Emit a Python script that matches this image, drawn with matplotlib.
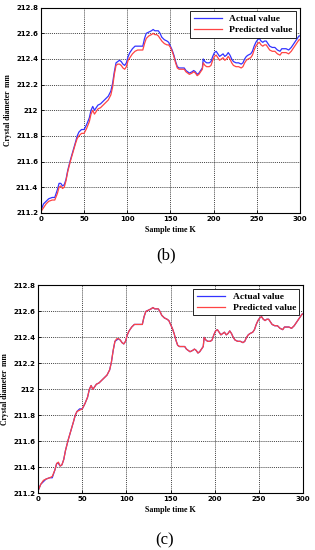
import matplotlib
matplotlib.use("Agg")
import matplotlib.pyplot as plt

# sample positions (K) and values
sample_k = [0, 3, 6, 9, 13, 16, 19, 21, 23, 25, 27, 29, 31, 34, 37, 40, 42, 44, 47, 50,
            53, 56, 58, 60, 62, 64, 66, 69, 72, 75, 78, 81, 83, 85, 87, 89, 91, 93, 95, 97,
            99, 101, 103, 106, 109, 112, 115, 118, 120, 122, 125, 128, 130, 132, 134, 136, 138, 140, 143, 146,
            148, 150, 152, 154, 156, 158, 160, 163, 166, 168, 170, 172, 175, 177, 179, 181, 183, 185, 187, 188,
            190, 192, 195, 197, 199, 201, 203, 205, 207, 209, 211, 213, 215, 217, 219, 221, 223, 226, 229, 232,
            234, 236, 238, 240, 243, 245, 247, 249, 251, 253, 255, 257, 259, 261, 263, 265, 268, 271, 274, 277,
            279, 281, 284, 287, 290, 293, 296, 299, 300]

actual = [211.22, 211.27, 211.29, 211.31, 211.32, 211.32, 211.38, 211.43, 211.43, 211.41, 211.42, 211.46, 211.53, 211.61, 211.68, 211.75, 211.80, 211.83, 211.85, 211.85,
          211.89, 211.94, 212.00, 212.03, 212.00, 212.02, 212.04, 212.05, 212.07, 212.09, 212.11, 212.15, 212.21, 212.30, 212.37, 212.38, 212.39, 212.38, 212.36, 212.35,
          212.37, 212.42, 212.45, 212.48, 212.50, 212.50, 212.50, 212.50, 212.56, 212.60, 212.61, 212.62, 212.63, 212.62, 212.62, 212.62, 212.60, 212.57, 212.55, 212.54,
          212.53, 212.50, 212.47, 212.43, 212.38, 212.34, 212.33, 212.33, 212.33, 212.31, 212.30, 212.29, 212.30, 212.31, 212.30, 212.28, 212.29, 212.31, 212.33, 212.40,
          212.38, 212.37, 212.37, 212.38, 212.42, 212.45, 212.46, 212.44, 212.42, 212.43, 212.44, 212.42, 212.43, 212.45, 212.43, 212.40, 212.38, 212.37, 212.37, 212.36,
          212.37, 212.40, 212.42, 212.43, 212.44, 212.46, 212.50, 212.53, 212.55, 212.56, 212.54, 212.53, 212.54, 212.54, 212.52, 212.50, 212.49, 212.49, 212.47, 212.46,
          212.48, 212.48, 212.48, 212.47, 212.49, 212.52, 212.55, 212.58, 212.58]

predicted_b = [211.21, 211.24, 211.27, 211.29, 211.30, 211.30, 211.35, 211.40, 211.41, 211.39, 211.40, 211.45, 211.52, 211.60, 211.67, 211.74, 211.78, 211.80, 211.82, 211.82,
               211.86, 211.91, 211.97, 212.00, 211.97, 211.99, 212.01, 212.02, 212.04, 212.06, 212.08, 212.12, 212.18, 212.28, 212.35, 212.36, 212.36, 212.35, 212.33, 212.32,
               212.34, 212.39, 212.41, 212.44, 212.46, 212.47, 212.47, 212.47, 212.52, 212.56, 212.58, 212.59, 212.60, 212.59, 212.59, 212.58, 212.56, 212.54, 212.52, 212.51,
               212.51, 212.49, 212.46, 212.42, 212.37, 212.33, 212.32, 212.32, 212.32, 212.30, 212.29, 212.28, 212.29, 212.30, 212.29, 212.27, 212.28, 212.30, 212.32, 212.37,
               212.35, 212.34, 212.34, 212.35, 212.39, 212.42, 212.43, 212.41, 212.39, 212.40, 212.41, 212.39, 212.40, 212.42, 212.40, 212.37, 212.35, 212.34, 212.34, 212.33,
               212.34, 212.37, 212.39, 212.40, 212.41, 212.43, 212.47, 212.50, 212.52, 212.53, 212.51, 212.50, 212.51, 212.51, 212.49, 212.47, 212.46, 212.46, 212.44, 212.43,
               212.45, 212.45, 212.45, 212.44, 212.46, 212.49, 212.52, 212.55, 212.55]

predicted_c = [211.22, 211.27, 211.30, 211.31, 211.32, 211.33, 211.38, 211.43, 211.44, 211.41, 211.42, 211.46, 211.53, 211.61, 211.68, 211.75, 211.80, 211.83, 211.84, 211.85,
               211.89, 211.94, 212.00, 212.03, 212.00, 212.02, 212.04, 212.05, 212.07, 212.09, 212.11, 212.15, 212.21, 212.30, 212.37, 212.39, 212.39, 212.38, 212.36, 212.35,
               212.37, 212.42, 212.45, 212.48, 212.50, 212.50, 212.50, 212.50, 212.56, 212.60, 212.61, 212.62, 212.63, 212.62, 212.62, 212.62, 212.60, 212.57, 212.55, 212.54,
               212.53, 212.50, 212.47, 212.43, 212.38, 212.34, 212.33, 212.33, 212.33, 212.31, 212.30, 212.29, 212.30, 212.31, 212.30, 212.28, 212.29, 212.31, 212.33, 212.40,
               212.38, 212.37, 212.37, 212.38, 212.42, 212.45, 212.46, 212.44, 212.42, 212.43, 212.44, 212.42, 212.43, 212.45, 212.43, 212.40, 212.38, 212.37, 212.37, 212.36,
               212.37, 212.40, 212.42, 212.43, 212.44, 212.46, 212.50, 212.53, 212.55, 212.56, 212.54, 212.53, 212.54, 212.54, 212.52, 212.50, 212.49, 212.49, 212.47, 212.46,
               212.48, 212.48, 212.48, 212.47, 212.49, 212.52, 212.55, 212.58, 212.58]

y_ticks = [211.2, 211.4, 211.6, 211.8, 212.0, 212.2, 212.4, 212.6, 212.8]
y_tick_labels = ["211.2", "211.4", "211.6", "211.8", "212", "212.2", "212.4", "212.6", "212.8"]
x_ticks = [0, 50, 100, 150, 200, 250, 300]

serif = "Liberation Serif"
blue = "#3333ff"
red = "#ff4444"


def style_axes(ax):
    ax.set_xlim(0, 300)
    ax.set_ylim(211.2, 212.8)
    ax.set_xticks(x_ticks)
    ax.set_yticks(y_ticks)
    ax.set_yticklabels(y_tick_labels)
    ax.tick_params(direction="in", length=2.5, width=0.6, labelsize=5, pad=2)
    for lab in ax.get_xticklabels() + ax.get_yticklabels():
        lab.set_fontweight("bold")
    ax.grid(True, color="black", linestyle=(0, (1.5, 1.5)), linewidth=0.5)
    for sp in ax.spines.values():
        sp.set_linewidth(0.8)
    ax.set_xlabel("Sample time K", fontfamily=serif, fontweight="bold", fontsize=5.8, labelpad=3)
    ax.set_ylabel("Crystal diameter  mm", fontfamily=serif, fontweight="bold", fontsize=5.5, labelpad=3)
    leg = ax.legend(loc="upper right", fancybox=False, edgecolor="black", framealpha=1,
                    prop={"family": serif, "weight": "bold", "size": 6.8},
                    handlelength=3.0, handletextpad=0.8, borderpad=0.35,
                    labelspacing=0.25, borderaxespad=0.4)
    leg.get_frame().set_linewidth(0.6)


fig = plt.figure(figsize=(3.15, 5.5), dpi=100)

ax_b = fig.add_axes([0.130, 0.613, 0.822, 0.373])
ax_b.plot(sample_k, actual, color=blue, lw=0.9, label="Actual value")
ax_b.plot(sample_k, predicted_b, color=red, lw=0.9, label="Predicted value")
style_axes(ax_b)
fig.text(0.527, 0.536, "(b)", ha="center", va="center", fontfamily=serif, fontsize=12)

ax_c = fig.add_axes([0.121, 0.103, 0.841, 0.378])
ax_c.plot(sample_k, actual, color=blue, lw=0.9, label="Actual value")
ax_c.plot(sample_k, predicted_c, color=red, lw=0.9, label="Predicted value")
style_axes(ax_c)
fig.text(0.524, 0.018, "(c)", ha="center", va="center", fontfamily=serif, fontsize=12)

fig.savefig("out.png", dpi=100)
